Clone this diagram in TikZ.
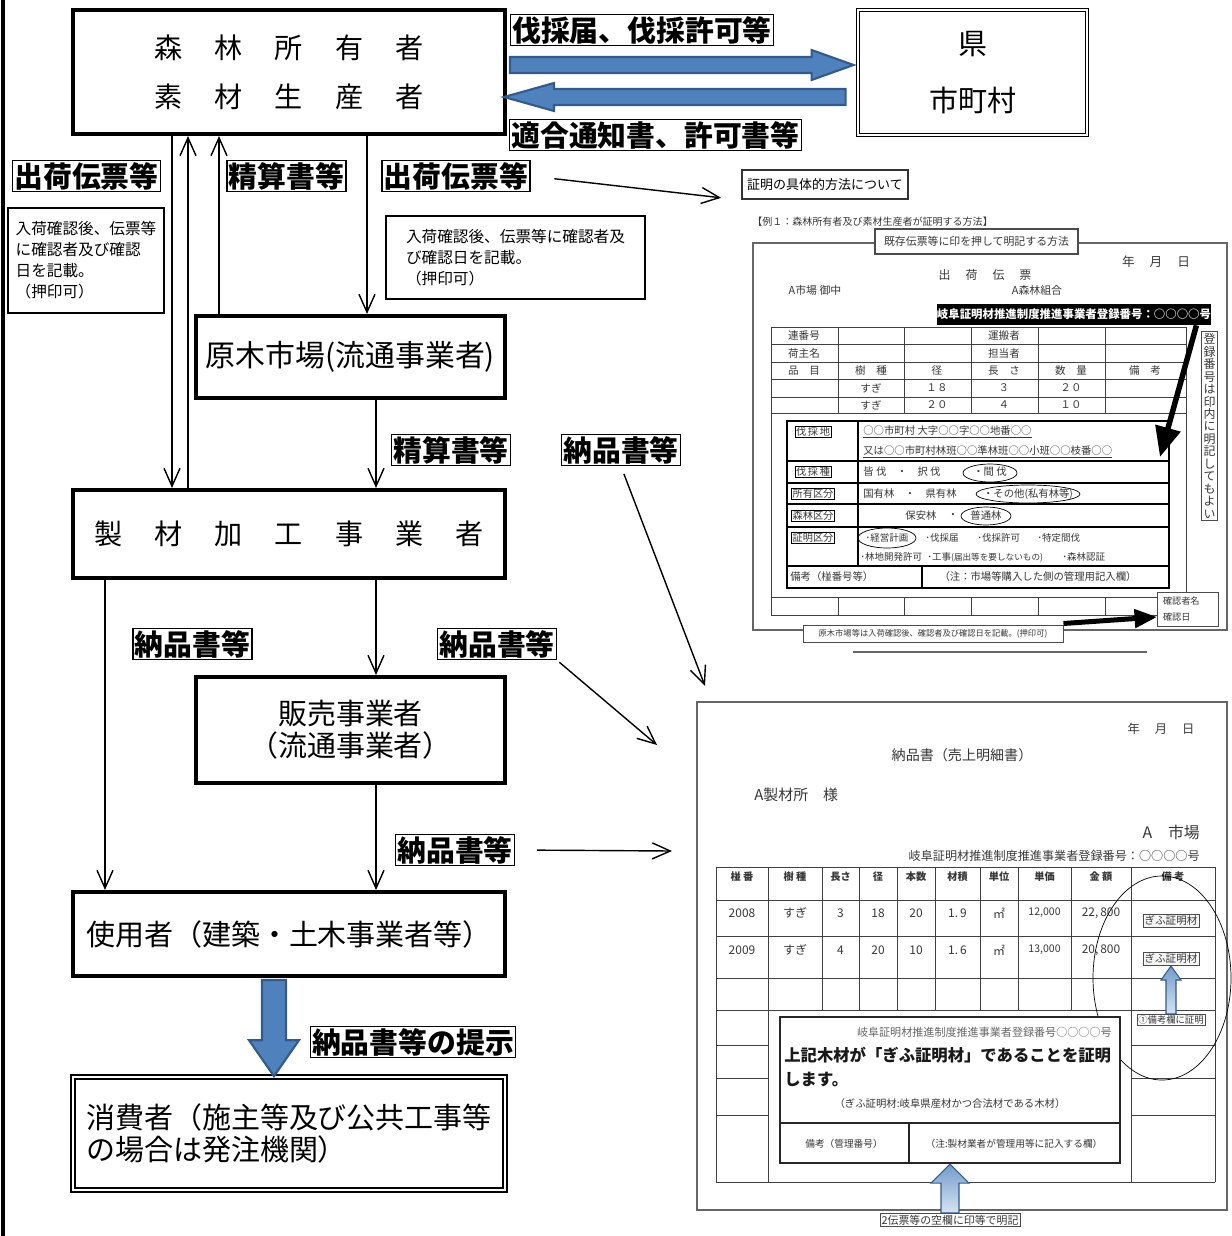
\documentclass[tikz,border=0pt]{standalone}
\usepackage{fontspec}
\setmainfont{Noto Sans CJK JP}
\usetikzlibrary{arrows.meta, calc}
\definecolor{arrowblue}{RGB}{79, 129, 189}
\definecolor{arrowdark}{RGB}{52, 90, 140}
\definecolor{arrowpale}{RGB}{214, 228, 244}
\definecolor{scangray}{RGB}{55, 55, 55}
\newcommand{\ksp}{\hspace{6.4mm}}
\tikzset{
  party/.style={draw, line width=2.3pt, inner sep=0pt, align=center, font=\fontsize{16.5}{19}\selectfont},
  flowtag/.style={draw, line width=0.8pt, inner sep=1pt, fill=white, font=\fontsize{16.4}{19}\selectfont\bfseries},
  memo/.style={draw, line width=1.3pt, align=left, inner sep=0pt, font=\fontsize{8.9}{11.9}\selectfont},
  feed/.style={-{Straight Barb[length=3.6mm, width=3.2mm]}, line width=0.8pt},
  blockarrow/.style={fill=arrowblue, draw=arrowdark, line width=1.2pt},
  paleup/.style={draw=arrowdark, line width=0.6pt, top color=arrowblue!80, bottom color=arrowpale},
  heavy/.style={line width=1.1mm, -{Triangle[length=6mm, width=5mm]}},
  sheet/.style={draw=black!60, line width=0.6pt},
  docrule/.style={draw=black!75, line width=0.5pt},
  doctxt/.style={inner sep=0pt, text=scangray},
  dcell/.style={doctxt, font=\fontsize{6}{7}\selectfont},
  rowtxt/.style={doctxt, font=\fontsize{5.9}{6}\selectfont},
  rowtag/.style={draw, line width=0.4pt, inner sep=0.6pt, text=scangray, font=\fontsize{5.8}{6}\selectfont},
}

\begin{document}
\begin{tikzpicture}[x=0.2mm, y=-0.2mm]
  \useasboundingbox (0,0) rectangle (1231,1236);
  \draw[line width=0.8mm] (3,0) -- (3,1236);

  % Parties
  \node[party, minimum width=86.4mm, minimum height=24.8mm, font=\fontsize{16}{28}\selectfont] (owner) at (289,72)
    {森\ksp 林\ksp 所\ksp 有\ksp 者\\素\ksp 材\ksp 生\ksp 産\ksp 者};
  \node[draw, double, double distance=1.4pt, line width=0.5pt, minimum width=45.8mm, minimum height=25mm,
    align=center, font=\fontsize{16.5}{32}\selectfont] (pref) at (972.5,72.5) {県\\市町村};
  \node[party, minimum width=61.8mm, minimum height=16.4mm, font=\fontsize{17}{19}\selectfont] (market) at (350.5,357)
    {原木市場(流通事業者)};
  \node[party, minimum width=86.4mm, minimum height=17.6mm, font=\fontsize{16}{19}\selectfont] (sawmill) at (289,534)
    {製\ksp 材\ksp 加\ksp 工\ksp 事\ksp 業\ksp 者};
  \node[party, minimum width=61.8mm, minimum height=21.2mm, font=\fontsize{16.5}{18}\selectfont] (retail) at (350.5,730)
    {販売事業者\\（流通事業者）};
  \node[party, minimum width=86.4mm, minimum height=16.8mm] (user) at (289,934) {使用者（建築・土木事業者等）};
  \node[party, line width=0.9pt, double, double distance=1.2pt, minimum width=86.4mm, minimum height=22.6mm,
    align=left, font=\fontsize{16.5}{18.7}\selectfont] (consumer) at (289,1133.5)
    {消費者（施主等及び公共工事等\\の場合は発注機関）};

  % Document tags
  \node[flowtag] (permitreq) at (642,30) {伐採届、伐採許可等};
  \node[flowtag] (permitback) at (655.5,135) {適合通知書、許可書等};
  \node[flowtag] (ship1) at (86.5,176) {出荷伝票等};
  \node[flowtag] (settle1) at (286.5,176) {精算書等};
  \node[flowtag] (ship2) at (456,176) {出荷伝票等};
  \node[flowtag] (settle2) at (451,450) {精算書等};
  \node[flowtag] (deliv1) at (621,450) {納品書等};
  \node[flowtag] (deliv2) at (192.5,644) {納品書等};
  \node[flowtag] (deliv3) at (497,644) {納品書等};
  \node[flowtag] (deliv4) at (455,850) {納品書等};
  \node[flowtag] (present) at (413,1042) {納品書等の提示};

  % Notes
  \node[memo, minimum width=31.2mm, minimum height=21mm] (memoL) at (86,260.5)
    {入荷確認後、伝票等\\に確認者及び確認\\日を記載。\\（押印可）};
  \node[memo, line width=0.9pt, minimum width=51.8mm, minimum height=16.6mm] (memoM) at (515.5,257.5)
    {入荷確認後、伝票等に確認者及\\び確認日を記載。\\（押印可）};

  % Flows between the parties
  \draw[feed] (owner.south -| 172,0) -- (sawmill.north -| 172,0);
  \draw[feed] (sawmill.north -| 188,0) -- (owner.south -| 188,0);
  \draw[feed] (market.north -| 219,0) -- (owner.south -| 219,0);
  \draw[feed] (owner.south -| 367,0) -- (market.north -| 367,0);
  \draw[feed] (market.south -| 376,0) -- (sawmill.north -| 376,0);
  \draw[feed] (sawmill.south -| 376,0) -- (retail.north -| 376,0);
  \draw[feed] (sawmill.south -| 105,0) -- (user.north -| 105,0);
  \draw[feed] (retail.south -| 376,0) -- (user.north -| 376,0);

  % Block arrows
  \coordinate (sendtail) at (owner.east |- 0,65);
  \coordinate (sendtip) at (pref.west |- 0,65);
  \draw[blockarrow] ($(sendtail)+(3,-8)$) -- ($(sendtip)+(-46,-8)$) -- ($(sendtip)+(-46,-15)$) -- ($(sendtip)+(-4,0)$)
    -- ($(sendtip)+(-46,15)$) -- ($(sendtip)+(-46,8)$) -- ($(sendtail)+(3,8)$) -- cycle;
  \coordinate (backtail) at (pref.west |- 0,97);
  \coordinate (backtip) at (owner.east |- 0,97);
  \draw[blockarrow] ($(backtail)+(-12,-8)$) -- ($(backtip)+(47,-8)$) -- ($(backtip)+(47,-14)$) -- ($(backtip)+(-3,0)$)
    -- ($(backtip)+(47,14)$) -- ($(backtip)+(47,8)$) -- ($(backtail)+(-12,8)$) -- cycle;
  \coordinate (showtop) at (user.south -| 274,0);
  \coordinate (showtip) at (consumer.north -| 274,0);
  \draw[blockarrow] ($(showtop)+(-12,2)$) -- ($(showtip)+(-12,-36)$) -- ($(showtip)+(-25,-36)$) -- (showtip)
    -- ($(showtip)+(25,-36)$) -- ($(showtip)+(12,-36)$) -- ($(showtop)+(12,2)$) -- cycle;

  % Sample 1: shipping slip
  \node[draw=black!80, line width=1.2pt, inner sep=2pt, minimum width=33.2mm, minimum height=5.8mm,
    font=\fontsize{7.4}{8}\selectfont] (howto) at (825,184.5) {証明の具体的方法について};
  \draw[feed, shorten <=4.8mm, shorten >=4mm] (ship2.east) -- (howto.south west);
  \node[doctxt, anchor=west, font=\fontsize{5.7}{6}\selectfont] (ex1) at (752,222) {【例１：森林所有者及び素材生産者が証明する方法】};
  \draw[sheet] (753,243) rectangle (1227,630);
  \node[doctxt, draw=black!70, fill=white, line width=0.6pt, minimum width=40.6mm, minimum height=5mm,
    font=\fontsize{6.2}{7}\selectfont] (method) at (976.5,241.5) {既存伝票等に印を押して明記する方法};
  \node[doctxt, font=\fontsize{7.2}{8}\selectfont] at (1156,262) {年\hspace{3mm}月\hspace{3mm}日};
  \node[doctxt, font=\fontsize{6.8}{8}\selectfont] at (985,275) {出\hspace{3mm}荷\hspace{3mm}伝\hspace{3mm}票};
  \node[doctxt, font=\fontsize{6.2}{7}\selectfont] at (815,290) {A市場\ 御中};
  \node[doctxt, font=\fontsize{6.2}{7}\selectfont] at (1037,290) {A森林組合};
  \node[fill=black, text=white, inner sep=0pt, minimum width=54.4mm, minimum height=4.2mm,
    font=\fontsize{6.5}{7}\selectfont\bfseries] (regbar) at (1074,314.5) {岐阜証明材推進制度推進事業者登録番号：○○○○号};

  \foreach \y in {327,344,362,379,397,413} \draw[docrule] (771,\y) -- (1186,\y);
  \foreach \x in {838,904,971,1038,1105} \draw[docrule] (\x,327) -- (\x,413) (\x,597) -- (\x,615);
  \draw[docrule] (771,327) -- (771,615) (1186,327) -- (1186,615) (771,597) -- (1186,597) (771,615) -- (1186,615);
  \node[dcell] at (804,335.5) {連番号};
  \node[dcell] at (1004,335.5) {運搬者};
  \node[dcell] at (804,353) {荷主名};
  \node[dcell] at (1004,353) {担当者};
  \node[dcell] at (804,370.5) {品\quad 目};
  \node[dcell] at (871,370.5) {樹\quad 種};
  \node[dcell] at (937,370.5) {径};
  \node[dcell] at (1004,370.5) {長\quad さ};
  \node[dcell] at (1071,370.5) {数\quad 量};
  \node[dcell] at (1145,370.5) {備\quad 考};
  \node[dcell] at (871,388) {すぎ};
  \node[dcell] at (937,388) {１８};
  \node[dcell] at (1004,388) {３};
  \node[dcell] at (1071,388) {２０};
  \node[dcell] at (871,405) {すぎ};
  \node[dcell] at (937,405) {２０};
  \node[dcell] at (1004,405) {４};
  \node[dcell] at (1071,405) {１０};

  % stamp area of the slip
  \draw[fill=white, line width=1pt] (787,421) rectangle (1169,588);
  \draw[line width=0.6pt] (787,461) -- (1169,461) (787,483) -- (1169,483) (787,504) -- (1169,504)
    (787,527) -- (1169,527) (787,566) -- (1169,566) (858,421) -- (858,566) (922,566) -- (922,588);
  \node[rowtag] at (813,432) {伐\,採\,地};
  \node[rowtag] at (813,472) {伐\,採\,種};
  \node[rowtag] at (813,494) {所有区分};
  \node[rowtag] at (813,516) {森林区分};
  \node[rowtag] at (813,538) {証明区分};
  \node[rowtxt, anchor=west] at (863,432) {\underline{○○市町村\ 大字○○字○○地番○○}};
  \node[rowtxt, anchor=west] at (863,452) {\underline{又は○○市町村林班○○準林班○○小班○○枝番○○}};
  \node[rowtxt, anchor=west] at (863,472) {皆\ 伐\quad ・\quad 択\ 伐};
  \node[rowtxt] at (990,472) {・間\ 伐};
  \draw (990,473) ellipse [x radius=5.4mm, y radius=1.8mm];
  \node[rowtxt, anchor=west] at (863,494) {国有林\quad ・\quad 県有林};
  \node[rowtxt] at (1028,494) {・その他(私有林等)};
  \draw (1028,494) ellipse [x radius=10.4mm, y radius=1.8mm];
  \node[rowtxt] at (921,516) {保安林};
  \node[rowtxt] at (953,516) {・};
  \node[rowtxt] at (986,516) {普通林};
  \draw (986,516) ellipse [x radius=5mm, y radius=1.8mm];
  \node[rowtxt, font=\fontsize{5.4}{6}\selectfont] at (887,538) {･経営計画};
  \draw (887,538) ellipse [x radius=5.8mm, y radius=2mm];
  \node[rowtxt, font=\fontsize{5.4}{6}\selectfont, anchor=west] at (925,538) {･伐採届};
  \node[rowtxt, font=\fontsize{5.4}{6}\selectfont, anchor=west] at (977,538) {･伐採許可};
  \node[rowtxt, font=\fontsize{5.4}{6}\selectfont, anchor=west] at (1037,538) {･特定間伐};
  \node[rowtxt, font=\fontsize{5.4}{6}\selectfont, anchor=west] at (860,557) {･林地開発許可};
  \node[rowtxt, font=\fontsize{5.4}{6}\selectfont, anchor=west] at (927,557) {･工事{\fontsize{4.9}{5}\selectfont(届出等を要しないもの)}};
  \node[rowtxt, font=\fontsize{5.4}{6}\selectfont, anchor=west] at (1062,557) {･森林認証};
  \node[rowtxt, anchor=west] at (790,577) {備考（椪番号等）};
  \node[rowtxt] at (1038,577) {（注：市場等購入した側の管理用記入欄）};

  \node[draw=black!70, fill=white, line width=0.5pt, inner sep=1pt, align=center, text=scangray,
    font=\fontsize{6.8}{7.1}\selectfont] (regnote) at (1209.5,426)
    {登\\録\\番\\号\\は\\印\\内\\に\\明\\記\\し\\て\\も\\よ\\い};
  \coordinate (regtip) at (1160,457);
  \draw[heavy] ([xshift=-3mm]regbar.south east) -- (regtip);
  \node[doctxt, draw=black!70, fill=white, line width=0.5pt, minimum width=12.2mm, minimum height=6.8mm,
    text width=10mm, align=left, font=\fontsize{5.2}{9.6}\selectfont] (confirm) at (1188,609) {確認者名\\確認日};
  \node[doctxt, draw=black!70, fill=white, line width=0.5pt, minimum width=52mm, minimum height=3.4mm,
    font=\fontsize{4.7}{5}\selectfont] (marketnote) at (933,633.5) {原木市場等は入荷確認後、確認者及び確認日を記載。(押印可)};
  \draw[heavy, line width=1mm, -{Triangle[length=4.5mm, width=3.6mm]}] ([yshift=2mm]marketnote.east) -- ([yshift=-1.6mm]confirm.west);
  \draw[sheet] (853,652) -- (1147,652);

  % Sample 2: delivery note
  \coordinate (billin1) at (705,686);
  \coordinate (billin2) at (657,745);
  \coordinate (billin3) at (672,851);
  \draw[feed, shorten <=1.6mm] (deliv1.south) -- (billin1);
  \draw[feed, shorten <=0.6mm] (deliv3.south east) -- (billin2);
  \draw[feed, shorten <=4.4mm] (deliv4.east) -- (billin3);
  \draw[sheet] (697,702) rectangle (1227,1210);
  \node[doctxt, font=\fontsize{7}{8}\selectfont] at (1161,729) {年\hspace{3mm}月\hspace{3mm}日};
  \node[doctxt, font=\fontsize{8}{9}\selectfont] (billtitle) at (962,755) {納品書（売上明細書）};
  \node[doctxt, anchor=west, font=\fontsize{8.5}{9}\selectfont] at (754,795) {A製材所\quad 様};
  \node[doctxt, anchor=east, font=\fontsize{9}{10}\selectfont] at (1200,832) {A\quad 市場};
  \node[doctxt, anchor=east, font=\fontsize{6.9}{8}\selectfont] at (1200,856) {岐阜証明材推進制度推進事業者登録番号：○○○○号};

  \foreach \x in {716,768,822,859,897,935,980,1018,1071,1131,1215} \draw[docrule] (\x,867) -- (\x,1010);
  \foreach \y in {867,900,936,978,1010,1182} \draw[docrule] (716,\y) -- (1215,\y);
  \draw[docrule] (716,1010) -- (716,1182) (768,1010) -- (768,1182) (1131,1010) -- (1131,1182) (1215,1010) -- (1215,1182);
  \foreach \y in {1045,1078,1115} \draw[docrule] (716,\y) -- (768,\y) (1131,\y) -- (1215,\y);
  \node[dcell, font=\fontsize{5.8}{6}\selectfont\bfseries] at (742,877) {椪\ 番};
  \node[dcell, font=\fontsize{5.8}{6}\selectfont\bfseries] at (795,877) {樹\ 種};
  \node[dcell, font=\fontsize{5.8}{6}\selectfont\bfseries] at (840.5,877) {長さ};
  \node[dcell, font=\fontsize{5.8}{6}\selectfont\bfseries] at (878,877) {径};
  \node[dcell, font=\fontsize{5.8}{6}\selectfont\bfseries] at (916,877) {本数};
  \node[dcell, font=\fontsize{5.8}{6}\selectfont\bfseries] at (957.5,877) {材積};
  \node[dcell, font=\fontsize{5.8}{6}\selectfont\bfseries] at (999,877) {単位};
  \node[dcell, font=\fontsize{5.8}{6}\selectfont\bfseries] at (1044.5,877) {単価};
  \node[dcell, font=\fontsize{5.8}{6}\selectfont\bfseries] at (1101,877) {金\ 額};
  \node[dcell, font=\fontsize{5.8}{6}\selectfont\bfseries] at (1173,877) {備\ 考};
  \node[dcell, font=\fontsize{6.8}{7}\selectfont] at (742,913) {2008};
  \node[dcell, font=\fontsize{6.8}{7}\selectfont] at (795,913) {すぎ};
  \node[dcell, font=\fontsize{6.8}{7}\selectfont] at (840.5,913) {3};
  \node[dcell, font=\fontsize{6.8}{7}\selectfont] at (878,913) {18};
  \node[dcell, font=\fontsize{6.8}{7}\selectfont] at (916,913) {20};
  \node[dcell, font=\fontsize{6.8}{7}\selectfont] at (957.5,913) {1.\,9};
  \node[dcell, font=\fontsize{6.8}{7}\selectfont] at (999,913) {㎡};
  \node[dcell] at (1044.5,913) {12,000};
  \node[dcell, font=\fontsize{6.8}{7}\selectfont] at (1101,913) {22,\,800};
  \node[dcell, font=\fontsize{6.8}{7}\selectfont] at (742,950) {2009};
  \node[dcell, font=\fontsize{6.8}{7}\selectfont] at (795,950) {すぎ};
  \node[dcell, font=\fontsize{6.8}{7}\selectfont] at (840.5,950) {4};
  \node[dcell, font=\fontsize{6.8}{7}\selectfont] at (878,950) {20};
  \node[dcell, font=\fontsize{6.8}{7}\selectfont] at (916,950) {10};
  \node[dcell, font=\fontsize{6.8}{7}\selectfont] at (957.5,950) {1.\,6};
  \node[dcell, font=\fontsize{6.8}{7}\selectfont] at (999,950) {㎡};
  \node[dcell] at (1044.5,950) {13,000};
  \node[dcell, font=\fontsize{6.8}{7}\selectfont] at (1101,950) {20,\,800};
  \node[dcell, draw=black!70, fill=black!4, inner sep=1pt] (gifu1) at (1171,921) {ぎふ証明材};
  \node[dcell, draw=black!70, fill=black!4, inner sep=1pt] (gifu2) at (1171,959) {ぎふ証明材};
  \node[doctxt, draw=black!70, fill=white, inner sep=0.8pt, font=\fontsize{5.3}{6}\selectfont] (note1) at (1171,1020) {①備考欄に証明};
  \draw[paleup] ($(note1.north)+(-5,0)$) -- ($(gifu2.south)+(-5,14)$) -- ($(gifu2.south)+(-10,14)$) -- (gifu2.south)
    -- ($(gifu2.south)+(10,14)$) -- ($(gifu2.south)+(5,14)$) -- ($(note1.north)+(5,0)$) -- cycle;
  \draw (1162,978) ellipse [x radius=13.8mm, y radius=20.4mm];

  % certification stamp
  \node[draw=black!85, line width=1.2pt, fill=white, minimum width=68mm, minimum height=29.2mm] (stamp) at (950,1090) {};
  \draw[draw=black!85, line width=0.8pt] (stamp.west |- 0,1123) -- (stamp.east |- 0,1123) (909,1123) -- (stamp.south -| 909,0);
  \node[doctxt, anchor=east, text=black!60, font=\fontsize{6.3}{7}\selectfont] at (1112,1032) {岐阜証明材推進制度推進事業者登録番号○○○○号};
  \node[doctxt, anchor=west, text=black!90, font=\fontsize{9.3}{10}\selectfont\bfseries] at (784,1055) {上記木材が「ぎふ証明材」であることを証明};
  \node[doctxt, anchor=west, text=black!90, font=\fontsize{9.3}{10}\selectfont\bfseries] at (784,1080) {します。};
  \node[doctxt, font=\fontsize{5.9}{7}\selectfont] at (950,1104) {（ぎふ証明材:岐阜県産材かつ合法材である木材）};
  \node[doctxt, font=\fontsize{5.5}{6}\selectfont] at (844,1144) {備考（管理番号）};
  \node[doctxt, font=\fontsize{5.5}{6}\selectfont] at (1014,1144) {（注:製材業者が管理用等に記入する欄）};
  \node[doctxt, draw=black!70, fill=white, inner sep=1pt, font=\fontsize{6.2}{7}\selectfont] (printnote) at (950,1220) {2伝票等の空欄に印等で明記};
  \draw[paleup] ($(printnote.north)+(-9,0)$) -- ($(stamp.south)+(-9,19)$) -- ($(stamp.south)+(-19,19)$) -- (stamp.south)
    -- ($(stamp.south)+(19,19)$) -- ($(stamp.south)+(9,19)$) -- ($(printnote.north)+(9,0)$) -- cycle;
\end{tikzpicture}
\end{document}
